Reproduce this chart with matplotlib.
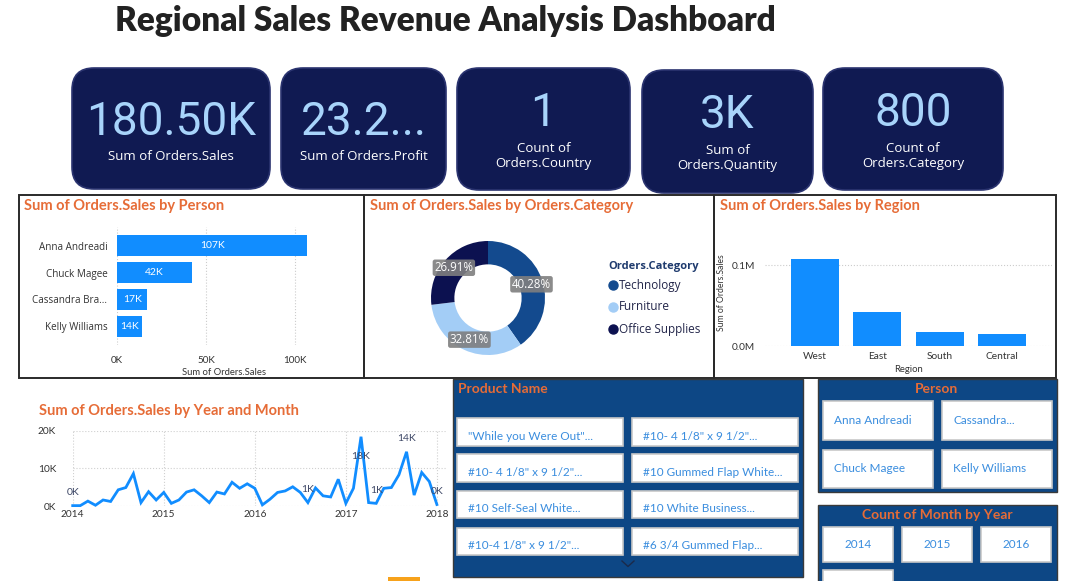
import numpy as np
import matplotlib
matplotlib.use("Agg")
import matplotlib.pyplot as plt
from matplotlib.patches import FancyBboxPatch, Rectangle
from matplotlib.ticker import FuncFormatter

W, H = 1066, 581

# ---- data ----
kpi_values = ["180.50K", "23.2...", "1", "3K", "800"]
kpi_labels = ["Sum of Orders.Sales", "Sum of Orders.Profit",
              "Count of\nOrders.Country", "Sum of\nOrders.Quantity",
              "Count of\nOrders.Category"]

persons = ["Anna Andreadi", "Chuck Magee", "Cassandra Bra...", "Kelly Williams"]
person_sales = [107000, 42000, 17000, 14000]

categories = ["Technology", "Furniture", "Office Supplies"]
category_share = [40.28, 32.81, 26.91]

regions = ["West", "East", "South", "Central"]
region_sales = [107800, 42000, 17300, 14900]

year_ticks = ["2014", "2015", "2016", "2017", "2018"]
monthly_sales = [
    100, 100, 1300, 200, 1600, 1200, 4300, 4900, 8600, 900, 3800, 1600,     # 2014
    3600, 700, 1600, 3700, 4300, 2700, 900, 3700, 3200, 6300, 4700, 5900,   # 2015
    4700, 300, 1800, 3600, 4000, 5100, 3600, 900, 4800, 2700, 2400, 7100,   # 2016
    700, 4700, 18400, 900, 700, 4700, 4900, 8300, 14400, 2900, 8900, 6500,  # 2017
    400,                                                                    # 2018
]
labelled_months = [0, 31, 38, 40, 44, 48]

product_names = ['"While you Were Out"...', '#10- 4 1/8" x 9 1/2"...',
                 '#10- 4 1/8" x 9 1/2"...', '#10 Gummed Flap White...',
                 '#10 Self-Seal White...', '#10 White Business...',
                 '#10-4 1/8" x 9 1/2"...', '#6 3/4 Gummed Flap...']
person_slicer = ["Anna Andreadi", "Cassandra...", "Chuck Magee", "Kelly Williams"]
year_slicer = ["2014", "2015", "2016", ""]

# ---- style ----
BLUE = "#118dff"
ORANGE = "#e66c37"
NAVY = "#101a52"
SLICER = "#0d4785"
TILE_TXT = "#3a8dde"
DARK = "#333333"
cat_colors = ["#134a8e", "#a3cdf6", "#0c1150"]
DIN = "Lato"
SEGOE = "Open Sans"

fig = plt.figure(figsize=(W / 100, H / 100), dpi=100)
fig.patch.set_facecolor("white")

bg = fig.add_axes([0, 0, 1, 1])
bg.set_xlim(0, W)
bg.set_ylim(H, 0)
bg.axis("off")


def px_axes(x0, y0, x1, y1):
    return fig.add_axes([x0 / W, 1 - y1 / H, (x1 - x0) / W, (y1 - y0) / H])


# title
bg.text(115, 21, "Regional Sales Revenue Analysis Dashboard", fontsize=24,
        fontweight="heavy", family=DIN, color="#222222", va="center", ha="left")

# KPI cards
cards = [(72, 68, 270, 189), (281, 68, 446, 189), (457, 68, 630, 190),
         (642, 70, 813, 193), (823, 68, 1003, 190)]
for (x0, y0, x1, y1), val, lab in zip(cards, kpi_values, kpi_labels):
    bg.add_patch(FancyBboxPatch((x0, y0), x1 - x0, y1 - y0,
                                boxstyle="round,pad=0,rounding_size=22",
                                fc=NAVY, ec="#2b3470", lw=1.2))
    cx = (x0 + x1) / 2
    two = "\n" in lab
    vy = y0 + (45 if two else 54)
    ly = y0 + 88
    bg.text(cx, vy, val, fontsize=33, family="Roboto", color="#a8d4fb",
            ha="center", va="center")
    bg.text(cx, ly, lab, fontsize=9.5, family=SEGOE, color="white",
            ha="center", va="center", linespacing=1.2)

# panel frames
for (x0, y0, x1, y1) in [(19, 195, 364, 378), (364, 195, 714, 378), (714, 195, 1056, 378)]:
    bg.add_patch(Rectangle((x0, y0), x1 - x0, y1 - y0, fc="none", ec="#2a2a2a", lw=1.4))

panel_titles = [(24, 206, "Sum of Orders.Sales by Person"),
                (370, 206, "Sum of Orders.Sales by Orders.Category"),
                (720, 206, "Sum of Orders.Sales by Region"),
                (39, 411, "Sum of Orders.Sales by Year and Month")]
for x, y, t in panel_titles:
    bg.text(x, y, t, fontsize=10.5, fontweight="bold", family=DIN, color=ORANGE,
            ha="left", va="center")

# ---- bar by person ----
ax1 = px_axes(117, 227, 330, 345)
ax1.set_facecolor("none")
yp = np.arange(len(persons))
ax1.barh(yp, person_sales, height=0.78, color=BLUE, zorder=2)
for y, v in zip(yp, person_sales):
    ax1.text(v / 2, y, f"{v / 1000:.0f}K", color="white", fontsize=7.5,
             family=DIN, ha="center", va="center", zorder=3)
ax1.set_xlim(0, 100000 * (330 - 117) / (295 - 117))
ax1.set_ylim(len(persons) - 0.3, -0.7)
ax1.set_yticks(yp, persons)
ax1.set_xticks([0, 50000, 100000], ["0K", "50K", "100K"])
ax1.tick_params(length=0, labelsize=7.1, colors=DARK)
ax1.tick_params(axis="y", pad=7)
ax1.tick_params(axis="x", pad=8)
for lab in ax1.get_yticklabels():
    lab.set_family(SEGOE)
for lab in ax1.get_xticklabels():
    lab.set_family(DIN)
ax1.set_xlabel("Sum of Orders.Sales", fontsize=6.8, family=DIN, color=DARK, labelpad=2)
ax1.grid(axis="x", ls=":", color="#cccccc", lw=0.8, zorder=0)
for s in ax1.spines.values():
    s.set_visible(False)

# ---- donut ----
ax2 = px_axes(431, 241, 545, 355)
wedges, _, autotexts = ax2.pie(category_share, colors=cat_colors, startangle=90,
                               counterclock=False, radius=1,
                               wedgeprops=dict(width=0.41, edgecolor="none"),
                               autopct="%.2f%%", pctdistance=0.8)
for t in autotexts:
    t.set_color("white")
    t.set_fontsize(8.3)
    t.set_family(SEGOE)
    t.set_bbox(dict(boxstyle="round,pad=0.15,rounding_size=0.2", fc="#7f7f7f",
                    ec="none", alpha=0.9))
ax2.set_xlim(-1, 1)
ax2.set_ylim(-1, 1)

bg.text(608, 267, "Orders.Category", fontsize=8, fontweight="bold", family=SEGOE,
        color="#1f3b6e", ha="left", va="center")
for i, (c, col) in enumerate(zip(categories, cat_colors)):
    y = 285 + i * 22
    bg.plot([613], [y], "o", ms=6.5, color=col)
    bg.text(619, y, c, fontsize=8.5, family=SEGOE, color="#23264a", ha="left", va="center")

# ---- region bars ----
ax3 = px_axes(765, 240, 1052, 346)
ax3.set_facecolor("none")
xr = np.arange(len(regions))
ax3.bar(xr, region_sales, width=0.765, color=BLUE, zorder=2)
ax3.set_xlim(-0.8, 3.8)
ax3.set_ylim(0, 100000 * (346 - 240) / (346 - 265.3))
ax3.set_yticks([0, 100000])
ax3.yaxis.set_major_formatter(FuncFormatter(lambda v, p: f"{v / 1e6:.1f}M"))
ax3.set_xticks(xr, regions)
ax3.tick_params(length=0, labelsize=7.3, colors=DARK)
ax3.tick_params(axis="y", pad=7)
ax3.tick_params(axis="x", pad=4)
for lab in ax3.get_xticklabels() + ax3.get_yticklabels():
    lab.set_family(DIN)
ax3.set_xlabel("Region", fontsize=6.8, family=DIN, color=DARK, labelpad=3)
ax3.set_ylabel("Sum of Orders.Sales", fontsize=6.2, family=DIN, color=DARK, labelpad=4)
ax3.grid(axis="y", ls=":", color="#cccccc", lw=0.8, zorder=0)
for s in ax3.spines.values():
    s.set_visible(False)

# ---- line by month ----
ax4 = px_axes(72.7, 430.7, 446, 506)
ax4.set_facecolor("none")
xm = np.arange(len(monthly_sales))
ax4.plot(xm, monthly_sales, color=BLUE, lw=2, clip_on=False, zorder=3,
         solid_joinstyle="miter")
for i in labelled_months:
    v = monthly_sales[i]
    off = -11 if v == max(monthly_sales) else 6
    ax4.annotate(f"{v / 1000:.0f}K", (xm[i], v), xytext=(0, off),
                 textcoords="offset points", ha="center",
                 va="bottom" if off > 0 else "top",
                 fontsize=7.5, family=DIN, color="#3d4766", zorder=4)
ax4.set_xlim(0, 49.2)
ax4.set_ylim(0, 20000)
ax4.set_xticks(np.arange(0, len(monthly_sales), 12), year_ticks)
ax4.set_yticks([0, 10000, 20000], ["0K", "10K", "20K"])
ax4.tick_params(length=0, labelsize=7.3, colors=DARK)
ax4.tick_params(axis="y", pad=12)
ax4.tick_params(axis="x", pad=3)
for lab in ax4.get_xticklabels() + ax4.get_yticklabels():
    lab.set_family(DIN)
ax4.grid(ls=":", color="#d0d0d0", lw=0.8, zorder=0)
for s in ax4.spines.values():
    s.set_visible(False)

# ---- slicers ----
bg.add_patch(Rectangle((453, 379), 350, 198, fc=SLICER, ec="#3a3a3a", lw=1))
bg.text(458, 389, "Product Name", fontsize=10, fontweight="bold", family=DIN,
        color=ORANGE, ha="left", va="center")
tile_cols = [(457, 623), (632, 798)]
tile_rows = [(418, 446), (454, 482), (491, 518), (528, 555)]
for k, name in enumerate(product_names):
    (x0, x1), (y0, y1) = tile_cols[k % 2], tile_rows[k // 2]
    bg.add_patch(Rectangle((x0, y0), x1 - x0, y1 - y0, fc="white", ec="#c8c8c8", lw=1.2))
    bg.text(x0 + 11, (y0 + y1) / 2 + 4, name, fontsize=8.5, family=DIN,
            color=TILE_TXT, ha="left", va="center")
bg.plot([622, 628, 634], [561, 566.5, 561], color="#1b2a4a", lw=1)

bg.add_patch(Rectangle((818, 379), 239, 113, fc=SLICER, ec="#3a3a3a", lw=1))
bg.text(937, 389, "Person", fontsize=10, fontweight="bold", family=DIN,
        color=ORANGE, ha="center", va="center")
p_cols = [(823, 933), (942, 1052)]
p_rows = [(401, 440), (450, 488)]
for k, name in enumerate(person_slicer):
    (x0, x1), (y0, y1) = p_cols[k % 2], p_rows[k // 2]
    bg.add_patch(Rectangle((x0, y0), x1 - x0, y1 - y0, fc="white", ec="#c8c8c8", lw=1.2))
    bg.text(x0 + 11, (y0 + y1) / 2, name, fontsize=8.5, family=DIN,
            color=TILE_TXT, ha="left", va="center")

bg.add_patch(Rectangle((818, 505), 239, 80, fc=SLICER, ec="#3a3a3a", lw=1))
bg.text(937, 515, "Count of Month by Year", fontsize=10, fontweight="bold", family=DIN,
        color=ORANGE, ha="center", va="center")
y_cols = [(823, 893), (902, 972), (981, 1051), (823, 893)]
y_rows = [(527, 562), (527, 562), (527, 562), (570, 600)]
for (x0, x1), (y0, y1), name in zip(y_cols, y_rows, year_slicer):
    bg.add_patch(Rectangle((x0, y0), x1 - x0, y1 - y0, fc="white", ec="#c8c8c8", lw=1.2))
    bg.text((x0 + x1) / 2, (y0 + y1) / 2, name, fontsize=8.5, family=DIN,
            color=TILE_TXT, ha="center", va="center")

bg.add_patch(Rectangle((388, 577), 32, 6, fc="#f7a21b", ec="none"))

fig.savefig("out.png", dpi=100, facecolor="white")
